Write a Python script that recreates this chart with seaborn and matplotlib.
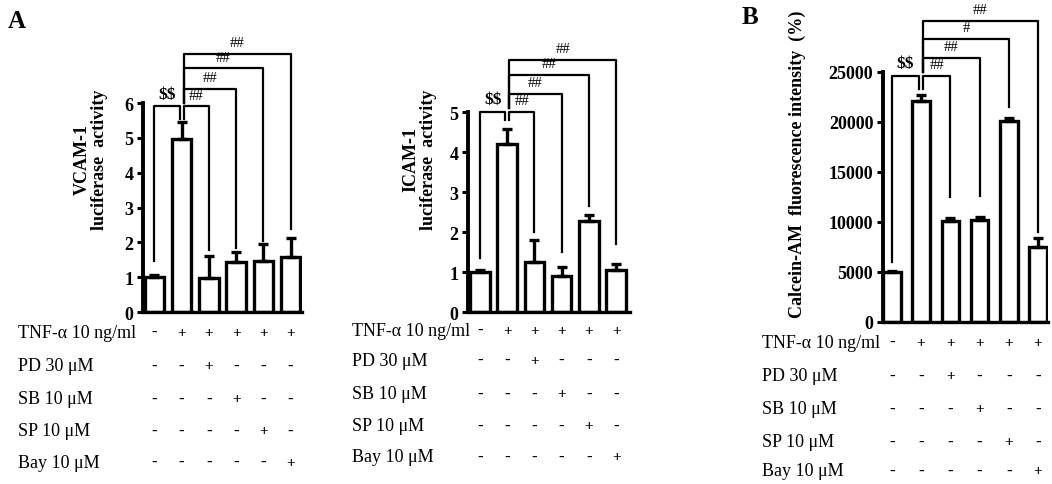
import numpy as np
import pandas as pd
import matplotlib
matplotlib.use("Agg")
import matplotlib.pyplot as plt
import matplotlib.transforms as mtrans
import seaborn as sb

# bar values
groups = ["g1", "g2", "g3", "g4", "g5", "g6"]
vcam_mean = [1.0, 4.97, 0.98, 1.43, 1.45, 1.57]
vcam_err = [0.06, 0.48, 0.62, 0.3, 0.5, 0.56]
icam_mean = [1.0, 4.2, 1.26, 0.9, 2.28, 1.04]
icam_err = [0.05, 0.38, 0.53, 0.22, 0.15, 0.15]
calcein_mean = [5000, 22100, 10100, 10200, 20100, 7500]
calcein_err = [120, 600, 300, 300, 300, 900]

row_labels = ["TNF-\u03b1 10 ng/ml", "PD 30 \u03bcM", "SB 10 \u03bcM", "SP 10 \u03bcM", "Bay 10 \u03bcM"]
treatment = [
    ["-", "+", "+", "+", "+", "+"],
    ["-", "-", "+", "-", "-", "-"],
    ["-", "-", "-", "+", "-", "-"],
    ["-", "-", "-", "-", "+", "-"],
    ["-", "-", "-", "-", "-", "+"],
]

# significance brackets: label, x start, x end, height, left leg end, right leg end
vcam_sig = [
    ("$$", 0, 0.93, 5.9, 1.45, 5.55),
    ("##", 1.07, 2, 5.9, 5.55, 1.78),
    ("##", 1.07, 3, 6.4, 6.0, 1.85),
    ("##", 1.07, 4, 7.0, 6.0, 2.05),
    ("##", 1.07, 5, 7.42, 6.0, 2.38),
]
icam_sig = [
    ("$$", 0, 0.93, 5.0, 1.35, 4.8),
    ("##", 1.07, 2, 5.0, 4.8, 2.0),
    ("##", 1.07, 3, 5.45, 5.1, 1.5),
    ("##", 1.07, 4, 5.93, 5.1, 2.65),
    ("##", 1.07, 5, 6.3, 5.1, 1.7),
]
calcein_sig = [
    ("$$", 0, 0.93, 24600, 6000, 23300),
    ("##", 1.07, 2, 24600, 23300, 12500),
    ("##", 1.07, 3, 26400, 25000, 12600),
    ("#", 1.07, 4, 28300, 25000, 21500),
    ("##", 1.07, 5, 30100, 25000, 9000),
]

W, H = 1052, 485
plt.rcParams["font.family"] = ["Liberation Serif", "DejaVu Serif"]
plt.rcParams["mathtext.default"] = "regular"
fig = plt.figure(figsize=(W / 100, H / 100), dpi=100)


def make_panel(left_px, right_px, zero_px, ppu, xlim, mean, err, sig, ylabel,
               yticks, label_x_px, row_y_px, width, pad, sig_fs=10.5):
    top_px = 6
    ax = fig.add_axes([left_px / W, 1 - zero_px / H,
                       (right_px - left_px) / W, (zero_px - top_px) / H])
    D = pd.DataFrame({"group": groups, "value": mean})
    sb.barplot(data=D, x="group", y="value", color="white", saturation=1,
               edgecolor="black", linewidth=2.4, width=width, errorbar=None, ax=ax)
    ax.errorbar(np.arange(len(mean)), mean, yerr=[np.zeros(len(err)), err],
                fmt="none", ecolor="black", elinewidth=2.4, capsize=3.5,
                capthick=2.4, zorder=5)
    ax.set_xlim(*xlim)
    ax.set_ylim(0, (zero_px - top_px) / ppu)
    ax.set_yticks(yticks)
    ax.set_yticklabels([str(t) for t in yticks], fontsize=13, fontweight="bold")
    ax.set_xticks([])
    ax.set_xlabel("")
    ax.set_ylabel(ylabel, fontsize=13, fontweight="bold", linespacing=1.0,
                  labelpad=pad)
    for s in ["top", "right"]:
        ax.spines[s].set_visible(False)
    ax.spines["left"].set_linewidth(2.8)
    ax.spines["left"].set_bounds(0, yticks[-1])
    ax.spines["bottom"].set_linewidth(2.4)
    ax.tick_params(axis="y", length=4, width=2.2, pad=3)
    ax.set_facecolor("none")

    for lab, x1, x2, h, l1, r2 in sig:
        ax.plot([x1, x1, x2, x2], [l1, h, h, r2], color="black", lw=1.6,
                clip_on=False, zorder=6)
        ax.text((x1 + x2) / 2, h + 0.015 * ax.get_ylim()[1],
                lab.replace("$", r"\$"), ha="center", va="bottom",
                fontsize=sig_fs + (2 if lab == "$$" else 0),
                fontweight="bold" if lab == "$$" else "normal", clip_on=False)

    trans = mtrans.blended_transform_factory(ax.transData, fig.transFigure)
    for r, (lab, row) in enumerate(zip(row_labels, treatment)):
        y = 1 - row_y_px[r] / H
        fig.text(label_x_px / W, y, lab, ha="left", va="center", fontsize=13)
        for i, sym in enumerate(row):
            ax.text(i, y, sym, transform=trans, ha="center", va="center",
                    fontsize=11 if sym == "+" else 12, fontweight="bold",
                    clip_on=False)
    return ax


make_panel(143, 302, 313, 209 / 6, (-0.42, 5.42), vcam_mean, vcam_err, vcam_sig,
           "VCAM-1\nluciferase  activity", [0, 1, 2, 3, 4, 5, 6],
           18, [333, 367, 400, 432, 463], 0.72, pad=12)
make_panel(468, 630, 313, 40, (-0.44, 5.51), icam_mean, icam_err, icam_sig,
           "ICAM-1\nluciferase  activity", [0, 1, 2, 3, 4, 5],
           352, [331, 361, 395, 427, 458], 0.72, pad=9)
make_panel(883, 1048, 323, 0.01, (-0.3, 5.34), calcein_mean, calcein_err, calcein_sig,
           "Calcein-AM  fluorescence intensity  (%)",
           [0, 5000, 10000, 15000, 20000, 25000],
           762, [343, 377, 410, 443, 472], 0.6, pad=16)

fig.text(8 / W, 1 - 22 / H, "A", fontsize=18, fontweight="bold", va="center")
fig.text(742 / W, 1 - 18 / H, "B", fontsize=18, fontweight="bold", va="center")

plt.savefig("out.png", dpi=100)
plt.close()
